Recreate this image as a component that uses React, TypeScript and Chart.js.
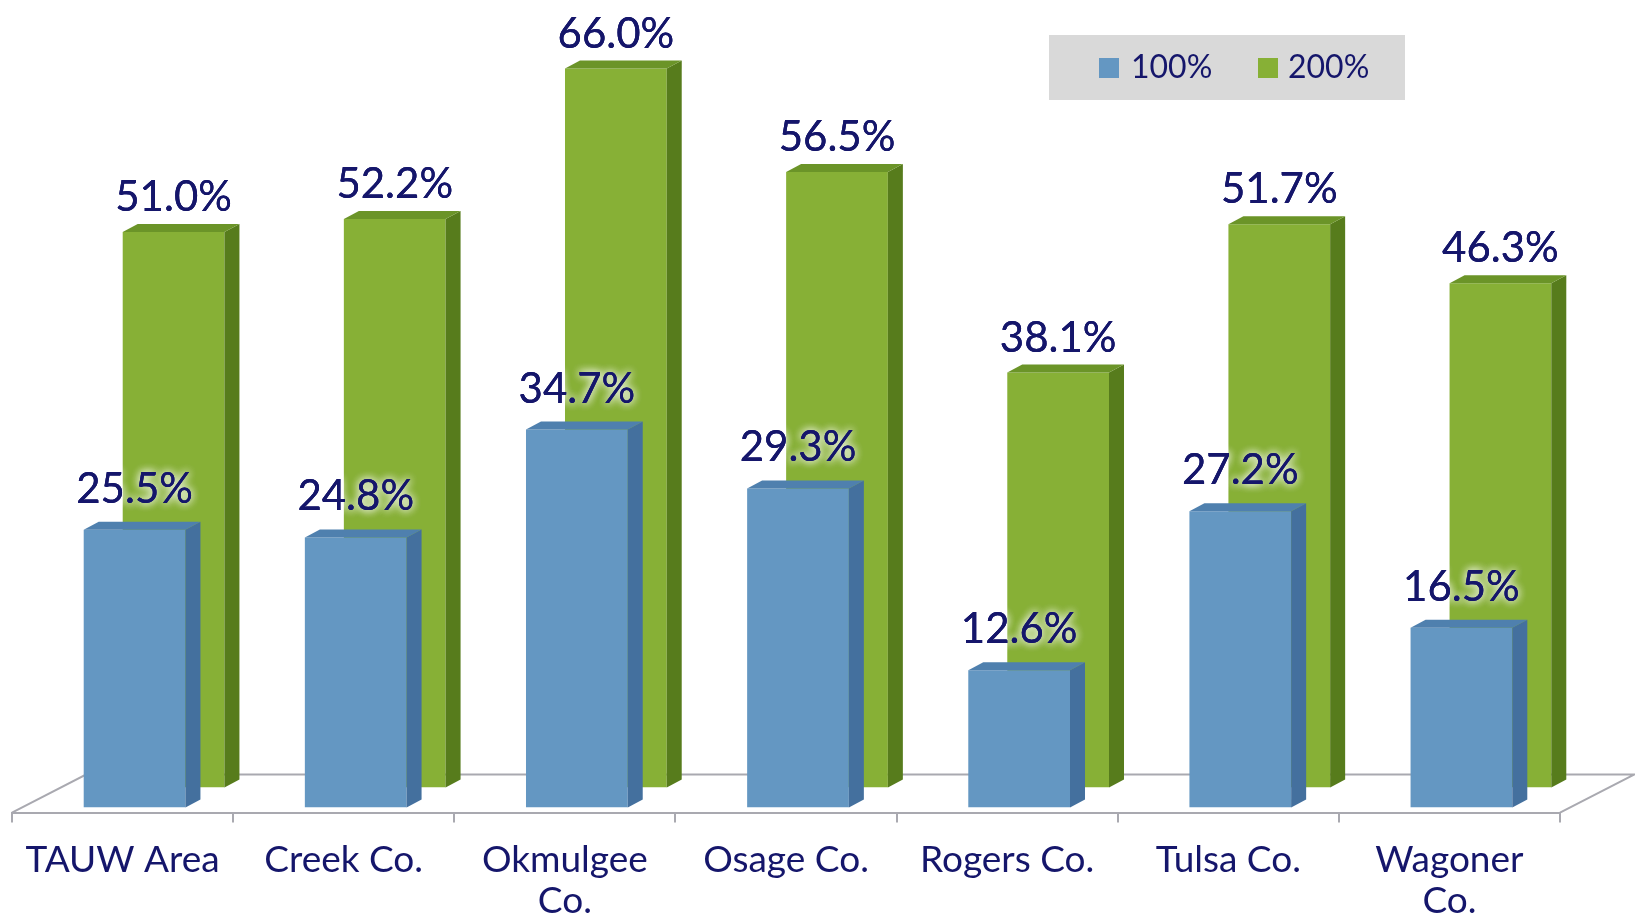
import React, { useEffect, useRef } from "react";
import { Chart, registerables } from "chart.js";

Chart.register(...registerables);

// ---- data ----
const categories: (string | string[])[] = [
  "TAUW Area",
  "Creek Co.",
  ["Okmulgee", "Co."],
  "Osage Co.",
  "Rogers Co.",
  "Tulsa Co.",
  ["Wagoner", "Co."],
];
const seriesNames = ["100%", "200%"];
const values100 = [25.5, 24.8, 34.7, 29.3, 12.6, 27.2, 16.5];
const values200 = [51.0, 52.2, 66.0, 56.5, 38.1, 51.7, 46.3];
const yMin = 0;
const yMax = 70;

// ---- styles ----
const TEXT = "#15166b";
const FRONT = ["#6497c2", "#87b036"];
const SIDE = ["#44709e", "#577c1c"];
const TOP = ["#4f80ae", "#6b9428"];
// per-dataset depth placement (how far back the row sits on the floor)
const ROW_OFFSET = [
  { x: 12, y: -5 },
  { x: 51, y: -25 },
];
const BAR_DEPTH = { x: 15, y: -8 };
const FLOOR_DEPTH = { x: 74, y: -38 };
const LABEL_GAP = [27, 21];

const threeD = {
  id: "threeD",
  beforeDatasetsDraw(chart: any) {
    const { ctx, chartArea } = chart;
    const y = chartArea.bottom;
    ctx.save();
    ctx.strokeStyle = "#a9a9b0";
    ctx.lineWidth = 2;
    ctx.beginPath();
    ctx.moveTo(chartArea.left, y);
    ctx.lineTo(chartArea.left + FLOOR_DEPTH.x, y + FLOOR_DEPTH.y);
    ctx.lineTo(chartArea.right + FLOOR_DEPTH.x, y + FLOOR_DEPTH.y);
    ctx.lineTo(chartArea.right, y);
    ctx.stroke();
    ctx.restore();
  },
  beforeDatasetDraw(chart: any, args: any) {
    const o = ROW_OFFSET[args.index];
    chart.ctx.save();
    chart.ctx.translate(o.x, o.y);
  },
  afterDatasetDraw(chart: any, args: any) {
    const ctx = chart.ctx;
    const i = args.index;
    const meta = chart.getDatasetMeta(i);
    meta.data.forEach((el: any) => {
      const p = el.getProps(["x", "y", "base", "width"], true);
      const x0 = p.x - p.width / 2;
      const x1 = p.x + p.width / 2;
      const top = Math.min(p.y, p.base);
      const base = Math.max(p.y, p.base);
      const dx = BAR_DEPTH.x;
      const dy = BAR_DEPTH.y;
      // side face
      ctx.fillStyle = SIDE[i];
      ctx.beginPath();
      ctx.moveTo(x1, top);
      ctx.lineTo(x1 + dx, top + dy);
      ctx.lineTo(x1 + dx, base + dy);
      ctx.lineTo(x1, base);
      ctx.closePath();
      ctx.fill();
      // top face
      ctx.fillStyle = TOP[i];
      ctx.beginPath();
      ctx.moveTo(x0, top);
      ctx.lineTo(x0 + dx, top + dy);
      ctx.lineTo(x1 + dx, top + dy);
      ctx.lineTo(x1, top);
      ctx.closePath();
      ctx.fill();
    });
    ctx.restore();
  },
  afterDatasetsDraw(chart: any) {
    const ctx = chart.ctx;
    ctx.save();
    ctx.font = "42px Lato";
    ctx.textAlign = "center";
    ctx.textBaseline = "alphabetic";
    [0, 1].forEach((i) => {
      const meta = chart.getDatasetMeta(i);
      const data = chart.data.datasets[i].data as number[];
      meta.data.forEach((el: any, j: number) => {
        const o = ROW_OFFSET[i];
        const tx = el.x + o.x;
        const ty = el.y + o.y - LABEL_GAP[i];
        const txt = data[j].toFixed(1) + "%";
        ctx.shadowColor = "rgba(255,255,255,0.95)";
        ctx.shadowBlur = 8;
        ctx.fillStyle = TEXT;
        ctx.fillText(txt, tx, ty);
        ctx.fillText(txt, tx, ty);
        ctx.shadowBlur = 0;
        ctx.fillText(txt, tx, ty);
      });
    });
    ctx.restore();
  },
  afterDraw(chart: any) {
    const ctx = chart.ctx;
    ctx.save();
    ctx.fillStyle = "#d9d9d9";
    ctx.fillRect(1049, 35, 356, 65);
    ctx.font = "32px Lato";
    ctx.textBaseline = "middle";
    ctx.textAlign = "left";
    const items = [
      { sx: 1099, tx: 1131 },
      { sx: 1258, tx: 1288 },
    ];
    items.forEach((it, i) => {
      ctx.fillStyle = FRONT[i];
      ctx.fillRect(it.sx, 58, 20, 20);
      ctx.fillStyle = TEXT;
      ctx.fillText(chart.data.datasets[i].label, it.tx, 68);
    });
    ctx.restore();
  },
};

export default function App() {
  const ref = useRef<HTMLCanvasElement>(null);
  useEffect(() => {
    document.body.style.margin = "0";
    const chart = new Chart(ref.current!, {
      type: "bar",
      data: {
        labels: categories,
        datasets: [
          {
            label: seriesNames[0],
            data: values100,
            backgroundColor: FRONT[0],
            borderWidth: 0,
          },
          {
            label: seriesNames[1],
            data: values200,
            backgroundColor: FRONT[1],
            borderWidth: 0,
          },
        ],
      },
      options: {
        animation: false,
        responsive: false,
        devicePixelRatio: 1,
        layout: { padding: { top: 50, left: 12, right: 75, bottom: -21 } },
        datasets: {
          bar: { grouped: false, barPercentage: 0.46, categoryPercentage: 1 },
        } as any,
        plugins: {
          legend: { display: false },
          tooltip: { enabled: false },
        },
        scales: {
          x: {
            offset: true,
            grid: {
              display: true,
              offset: true,
              drawOnChartArea: false,
              drawTicks: true,
              tickLength: 10,
              color: "#a9a9b0",
              lineWidth: 2,
            },
            border: { display: true, color: "#a9a9b0", width: 2 },
            ticks: {
              color: TEXT,
              font: { family: "Lato", size: 37, lineHeight: 1.1 },
              padding: 17,
              maxRotation: 0,
              minRotation: 0,
              autoSkip: false,
            },
          },
          y: { display: false, min: yMin, max: yMax },
        },
      },
      plugins: [threeD],
    });
    return () => chart.destroy();
  }, []);
  return (
    <div style={{ position: "absolute", left: 0, top: 0, width: 1635, height: 917, background: "#fff", overflow: "hidden" }}>
      <canvas ref={ref} width={1635} height={917} />
    </div>
  );
}
